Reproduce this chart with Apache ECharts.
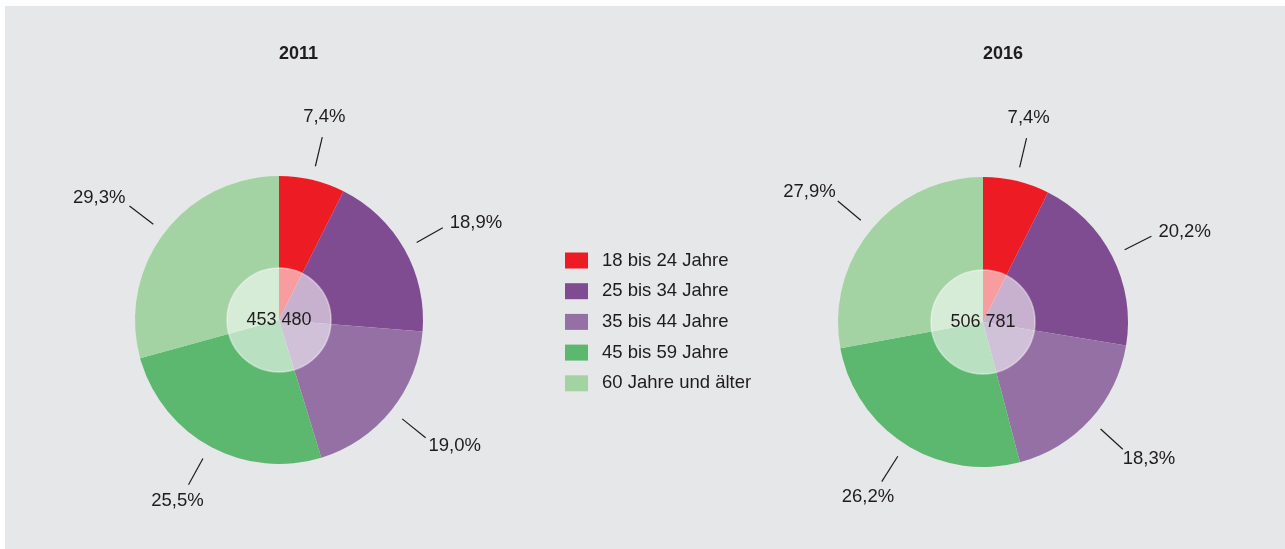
<!DOCTYPE html>
<html>
<head>
<meta charset="utf-8">
<script src="https://cdn.jsdelivr.net/npm/echarts@6/dist/echarts.min.js"></script>
<style>
  html, body { margin: 0; padding: 0; background: #ffffff; }
  #chart { position: absolute; left: 5px; top: 6px; width: 1280px; height: 543px; }
</style>
</head>
<body>
<div id="chart"></div>
<script>
// Altersgruppen
var categories = ['18 bis 24 Jahre', '25 bis 34 Jahre', '35 bis 44 Jahre', '45 bis 59 Jahre', '60 Jahre und älter'];
var colors = ['#ed1c24', '#7f4c91', '#9570a5', '#5cb86f', '#a3d3a2'];
var years = ['2011', '2016'];
var values2011 = [7.4, 18.9, 19.0, 25.5, 29.3]; // Anteile in %
var values2016 = [7.4, 20.2, 18.3, 26.2, 27.9];
var totals = [453480, 506781]; // Gesamtzahl

var LINE_GAP = 14; // Abstand Linie zum Kreis

var chart = echarts.init(document.getElementById('chart'));

function fmtPercent(p) {
    return p.value.toFixed(1).replace('.', ',') + '%';
}
function fmtTotal(n) {
    return String(n).replace(/\B(?=(\d{3})+(?!\d))/g, ' ');
}
// Label hinter das Linienende schieben, Linie vom Kreis abrücken
function placeLabel(params) {
    var pts = params.labelLinePoints;
    if (!pts) return {};
    var p0 = pts[0], p1 = pts[1];
    var dx = p1[0] - p0[0], dy = p1[1] - p0[1];
    var len = Math.sqrt(dx * dx + dy * dy) || 1;
    var ux = dx / len, uy = dy / len;
    var hw = params.labelRect.width / 2, hh = params.labelRect.height / 2;
    var fx = Math.min(1, Math.abs(ux) * 1.2);
    return {
        x: p1[0] + (ux < 0 ? -1 : 1) * fx * fx * (hw + 7),
        y: p1[1] + uy * Math.abs(uy) * (hh + 12),
        align: 'center',
        verticalAlign: 'middle',
        labelLinePoints: [[p0[0] + ux * LINE_GAP, p0[1] + uy * LINE_GAP], p1, p1]
    };
}

function toData(vals) {
    return vals.map(function (v, i) {
        return { name: categories[i], value: v, itemStyle: { color: colors[i] } };
    });
}

function pieSeries(vals, center, radius) {
    return {
        type: 'pie',
        center: center,
        radius: [0, radius],
        startAngle: 90,
        clockwise: true,
        avoidLabelOverlap: false,
        silent: true,
        label: {
            show: true,
            position: 'outside',
            formatter: fmtPercent,
            color: '#1f1c1d',
            fontSize: 18.5,
            fontFamily: 'Liberation Sans, Arial, sans-serif'
        },
        labelLine: {
            show: true,
            length: 44,
            length2: 0,
            smooth: false,
            lineStyle: { color: '#1f1c1d', width: 1.2 }
        },
        labelLayout: placeLabel,
        data: toData(vals)
    };
}

function innerSeries(total, center) {
    return {
        type: 'pie',
        center: center,
        radius: [0, 52],
        silent: true,
        label: {
            show: true,
            position: 'center',
            formatter: fmtTotal(total),
            color: '#1f1c1d',
            fontSize: 18,
            fontFamily: 'Liberation Sans, Arial, sans-serif'
        },
        labelLine: { show: false },
        itemStyle: {
            color: 'rgba(255,255,255,0.57)',
            borderColor: 'rgba(255,255,255,0.45)',
            borderWidth: 1.5
        },
        data: [{ name: 'gesamt', value: 1 }]
    };
}

option = {
    backgroundColor: '#e6e7e8',
    animation: false,
    graphic: [
        {
            type: 'text', left: 274, top: 39,
            style: { text: years[0], textAlign: 'center', fill: '#1f1c1d', font: 'bold 18px Liberation Sans, Arial, sans-serif' }
        },
        {
            type: 'text', left: 978, top: 39,
            style: { text: years[1], textAlign: 'center', fill: '#1f1c1d', font: 'bold 18px Liberation Sans, Arial, sans-serif' }
        }
    ],
    legend: {
        orient: 'vertical',
        left: 560,
        top: 245,
        padding: 0,
        icon: 'rect',
        itemWidth: 23,
        itemHeight: 16,
        itemGap: 11.7,
        selectedMode: false,
        data: categories,
        textStyle: {
            color: '#1f1c1d',
            fontSize: 18.5,
            padding: [0, 0, 0, 9],
            fontFamily: 'Liberation Sans, Arial, sans-serif'
        }
    },
    series: [
        pieSeries(values2011, [274, 314], 144),
        innerSeries(totals[0], [274, 314]),
        pieSeries(values2016, [978, 316], 145),
        innerSeries(totals[1], [978, 316])
    ]
};
chart.setOption(option, true);
</script>
</body>
</html>
